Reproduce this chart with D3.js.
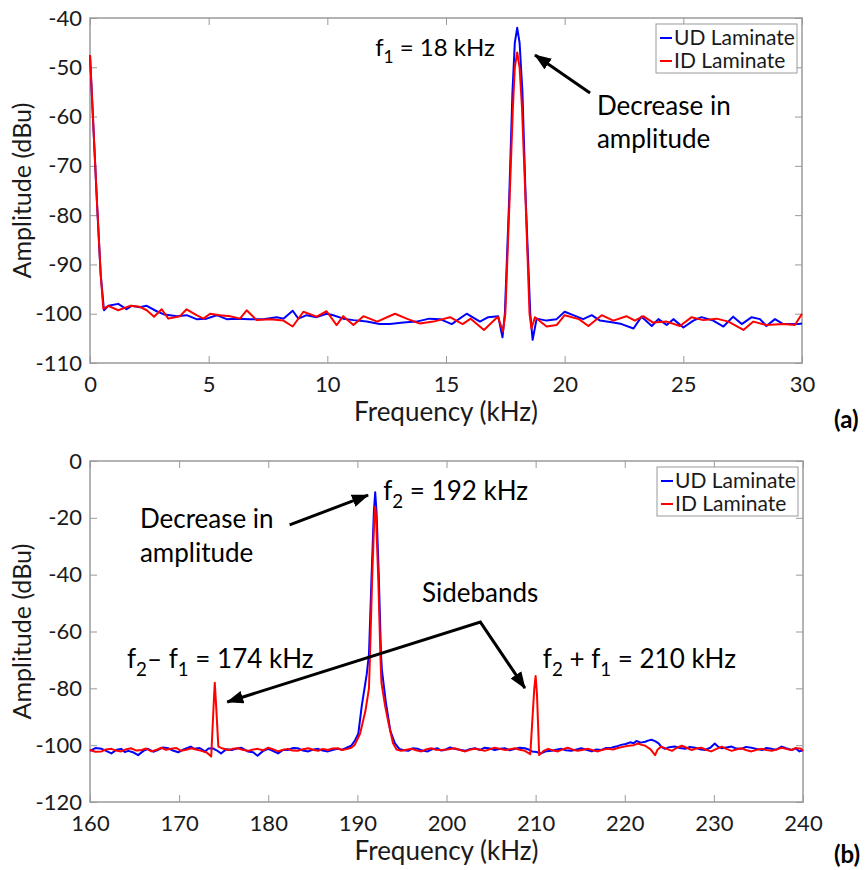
<!DOCTYPE html>
<html>
<head>
<meta charset="utf-8">
<script src="https://cdn.jsdelivr.net/npm/d3@7"></script>
<style>
  html, body { margin: 0; padding: 0; background: #fff; }
  svg { display: block; font-family: Lato, "Open Sans", sans-serif; }
</style>
</head>
<body>
<svg id="chart" width="867" height="870"></svg>
<script>
// ---------- Panel (a): spectrum around f1 = 18 kHz, [frequency kHz, amplitude dBu] ----------
const topUD = [
  [0,-47.5],[0.3,-78],[0.45,-92],[0.59,-99.3],[0.77,-98.4],[1.19,-98],[1.54,-99.1],[1.75,-98.4],[2.1,-98.7],[2.39,-98.4],
  [2.81,-99.5],[3.09,-100.1],[3.65,-100.5],[4.07,-100.3],[4.49,-101.1],[4.92,-101],[5.34,-100.3],[5.76,-101.1],[6.18,-101],[6.74,-101.1],
  [7.3,-101.1],[7.87,-100.7],[8.15,-101],[8.54,-99.4],[8.78,-101],[9.13,-100.3],[9.55,-100.7],[9.97,-100],[10.25,-100.3],[10.67,-101],
  [11.1,-101.3],[11.66,-101.6],[12.2,-102.1],[12.64,-102.1],[13.2,-101.8],[13.76,-101.6],[14.3,-101],[14.75,-101.1],[15.24,-102.1],[15.87,-100],
  [16.43,-101.6],[16.78,-100.7],[17.2,-100.5],[17.38,-104.8],[17.48,-100],[17.66,-77],[17.8,-55],[17.9,-45],[18.0,-42],[18.1,-45],
  [18.22,-55],[18.36,-77],[18.55,-100],[18.65,-105.3],[18.82,-101],[19.24,-101.4],[19.66,-101.1],[20.0,-99.6],[20.36,-100.3],[20.78,-101.1],
  [21.14,-100.3],[21.49,-101.4],[22.05,-101.8],[22.4,-102.1],[22.9,-103],[23.24,-100.6],[23.67,-102.5],[23.95,-101.1],[24.3,-102.3],[24.58,-101.1],
  [25.0,-102.8],[25.42,-101.4],[25.77,-100.7],[26.26,-101.4],[26.69,-102.6],[27.1,-100.6],[27.46,-102.1],[27.88,-100.7],[28.23,-101.1],[28.5,-102.5],
  [28.86,-101.1],[29.21,-102.1],[29.85,-102.1],[30,-102]
];
const topID = [
  [0,-47.5],[0.3,-78],[0.45,-92],[0.56,-99],[0.77,-98.4],[1.19,-99.3],[1.69,-98.4],[2.1,-98.6],[2.39,-99.3],[2.7,-100.6],
  [3.02,-99.1],[3.3,-101],[3.79,-100.5],[4.07,-99.1],[4.49,-100.3],[4.78,-101],[5.06,-100],[5.48,-100.3],[5.9,-100.5],[6.32,-101],
  [6.6,-99.3],[7.02,-101.3],[7.58,-101.1],[8.15,-101.4],[8.54,-102.6],[8.99,-99.6],[9.55,-100.6],[9.97,-99.5],[10.39,-102.3],[10.67,-100.5],
  [11.1,-102.3],[11.52,-100.5],[12.1,-101.6],[12.85,-100],[13.34,-101],[13.9,-102],[14.47,-101.6],[15.17,-100.7],[15.7,-102.1],[16.04,-101],
  [16.6,-103.3],[17.18,-100.6],[17.4,-103.6],[17.5,-100],[17.67,-78],[17.82,-58],[17.9,-50],[18.0,-47],[18.1,-50],[18.2,-58],
  [18.36,-78],[18.52,-100],[18.6,-103],[18.75,-100.7],[19.24,-102.6],[19.66,-102.3],[20.0,-100.3],[20.6,-101.1],[21.0,-102.5],[21.56,-100.3],
  [22.05,-101.4],[22.6,-100.5],[22.96,-101.4],[23.31,-100.5],[23.73,-101.8],[24.3,-101.6],[24.86,-102.5],[25.35,-100.7],[25.84,-101.3],[26.4,-101],
  [26.9,-101.6],[27.53,-103.3],[27.95,-101.6],[28.5,-102.3],[29.21,-102.1],[29.7,-102.3],[30,-100]
];
const topXTicks = [0, 5, 10, 15, 20, 25, 30];
const topYTicks = [-110, -100, -90, -80, -70, -60, -50, -40];

// ---------- Panel (b): spectrum around f2 = 192 kHz, [frequency kHz, amplitude dBu] ----------
const botUD = [
  [160,-102],[160.6,-101],[161.3,-101.3],[161.8,-102],[162.4,-102.9],[163,-101.6],[163.5,-101.3],[163.9,-102.4],[164.3,-102],[164.9,-102.6],
  [165.4,-103.5],[166,-102],[166.5,-101.3],[167.1,-102.3],[167.6,-101.7],[168.2,-100.8],[168.8,-101.1],[169.3,-101.9],[169.9,-102.5],[170.5,-101.5],
  [171,-100.9],[171.3,-100.5],[171.7,-101.3],[172.3,-101],[172.9,-102.2],[173.3,-101.2],[173.8,-101.1],[174.2,-101.8],[174.7,-102.9],[175.3,-101.4],
  [175.9,-101.7],[176.5,-101.2],[177,-100.9],[177.3,-101.5],[177.7,-102.2],[178.3,-102.5],[178.8,-103.7],[179.4,-102.1],[180,-101.3],[180.5,-102],
  [181.1,-102.9],[181.7,-101.6],[182.2,-101.7],[182.8,-101],[183.3,-101.1],[183.9,-101.9],[184.5,-102.2],[185.1,-101.5],[185.6,-101.3],[186.1,-101.9],
  [186.7,-102.2],[187.3,-101.6],[187.8,-101.3],[188.3,-101.6],[188.8,-100.9],[189.3,-100.2],[189.7,-98.5],[190.1,-96],[190.5,-86],[190.85,-79],
  [191.05,-75],[191.3,-68],[191.6,-40],[191.85,-18],[192,-11],[192.15,-18],[192.4,-40],[192.65,-68],[192.75,-73.5],[193.2,-85],
  [193.7,-95],[194.2,-99.3],[194.7,-101.3],[195.2,-101.8],[195.7,-102],[196.2,-101.1],[196.8,-101.3],[197.3,-101.9],[197.9,-102.2],[198.4,-101.4],
  [199,-101.1],[199.4,-101.9],[199.8,-101.7],[200.4,-100.8],[200.9,-101.3],[201.5,-101.6],[202.1,-102],[202.6,-101.4],[203.2,-101.1],[203.8,-101.7],
  [204.3,-100.9],[204.9,-101.2],[205.4,-101.7],[206,-101.3],[206.6,-101.1],[207.1,-101.8],[207.7,-101.3],[208.2,-100.9],[208.8,-101.1],[209.2,-101.5],
  [209.6,-102.2],[210.1,-102.4],[210.6,-102.9],[211.2,-102.1],[211.8,-102],[212.3,-101.6],[212.9,-101.3],[213.4,-101.8],[214,-102],[214.6,-101.5],
  [215.1,-101.1],[215.7,-101.6],[216.3,-102.2],[216.8,-101.5],[217.4,-101.7],[217.9,-101],[218.5,-100.9],[219,-100.5],[219.6,-99.9],[220.1,-99.6],
  [220.6,-99],[221,-99.3],[221.3,-98.5],[221.8,-99.1],[222.3,-98.8],[222.6,-98.4],[223,-98.1],[223.4,-98.6],[223.8,-99.4],[224.1,-100.6],
  [224.5,-101.3],[225,-100.7],[225.6,-100.5],[226.2,-101],[226.8,-101.3],[227.3,-100.6],[227.9,-100.9],[228.4,-101.4],[229,-101.7],[229.6,-100.9],
  [230.1,-99.4],[230.5,-100.6],[230.9,-101.1],[231.4,-100.8],[232,-100.5],[232.5,-101.2],[233.1,-101.3],[233.6,-100.6],[234.2,-100.9],[234.8,-101.3],
  [235.4,-101.7],[235.9,-101],[236.5,-101.3],[237,-101.6],[237.6,-100.5],[238.1,-101.1],[238.7,-101.7],[239.2,-101.2],[239.6,-102.2],[240,-101.8]
];
const botID = [
  [160,-101.7],[160.6,-102.3],[161.3,-102.2],[161.8,-101.5],[162.4,-101.3],[162.9,-101.9],[163.5,-102.2],[164,-101.5],[164.6,-101.1],[165.2,-101.9],
  [165.8,-101.7],[166.3,-101.2],[166.9,-102.2],[167.5,-101.6],[168,-100.9],[168.5,-101.6],[169.1,-101.3],[169.7,-101],[170.2,-102],[170.8,-101.6],
  [171.4,-101.1],[171.9,-101.5],[172.5,-102],[173.1,-102.6],[173.6,-104],[173.9,-84],[174,-78],[174.15,-86],[174.4,-100.5],[174.9,-101.2],
  [175.5,-101.7],[176,-101.3],[176.6,-101.1],[177.1,-101.6],[177.7,-102],[178.2,-101.6],[178.8,-101.3],[179.4,-101.8],[180,-100.9],[180.5,-101.4],
  [181.1,-102.2],[181.6,-101.7],[182.2,-101.3],[182.7,-101.9],[183.3,-102],[183.9,-101.4],[184.5,-101.1],[185,-101.6],[185.6,-102],[186.1,-101.3],
  [186.7,-101.7],[187.2,-101.2],[187.8,-101.1],[188.3,-101.7],[188.9,-101.3],[189.3,-100.9],[189.7,-99.9],[190.3,-96],[190.9,-88],[191.3,-80],
  [191.4,-70],[191.65,-42],[191.9,-20],[192,-16],[192.1,-20],[192.35,-42],[192.6,-70],[192.7,-78],[193.1,-86],[193.5,-92.3],
  [194,-99.3],[194.4,-101.5],[194.9,-102],[195.5,-101.6],[196.1,-101.3],[196.6,-101.8],[197.2,-102.2],[197.7,-101.5],[198.3,-101.1],[198.8,-101.6],
  [199.4,-101.7],[200.1,-101.5],[200.9,-101.1],[201.5,-101.7],[202.1,-102.2],[202.6,-101.6],[203.2,-101.3],[203.8,-101.6],[204.3,-102],[204.9,-101.4],
  [205.4,-100.9],[206,-101.3],[206.6,-101.7],[207.1,-101.4],[207.7,-101.1],[208.2,-101.6],[208.8,-102],[209.4,-103.2],[209.85,-80],[210,-75.7],
  [210.15,-82],[210.4,-103.5],[210.9,-102],[211.4,-101.3],[211.9,-101.8],[212.5,-102.2],[213,-101.5],[213.6,-100.9],[214.1,-101.5],[214.7,-102],
  [215.3,-101.6],[215.9,-101.3],[216.4,-101.8],[217,-102.2],[217.5,-101.6],[218.1,-101.3],[218.7,-101.5],[219.3,-100.9],[219.8,-100.6],[220.4,-100.2],
  [221,-100],[221.5,-99.4],[221.9,-99.9],[222.3,-100.2],[222.9,-101.5],[223.4,-103.5],[223.7,-101.5],[224.1,-100.5],[224.7,-101.3],[225.3,-102],
  [225.8,-101],[226.4,-100.2],[227,-101],[227.5,-101.7],[228,-101.2],[228.6,-100.9],[229.1,-101.6],[229.7,-102.2],[230.3,-101.3],[230.9,-100.5],
  [231.4,-101.3],[232,-102],[232.5,-101.5],[233.1,-101.1],[233.6,-101.7],[234.2,-102.2],[234.8,-101.6],[235.4,-101.3],[235.9,-101.7],[236.5,-102],
  [237,-101.5],[237.6,-100.9],[238.1,-101.3],[238.7,-101.7],[239.2,-101],[239.8,-101.3],[240,-102]
];
const botXTicks = [160, 170, 180, 190, 200, 210, 220, 230, 240];
const botYTicks = [-120, -100, -80, -60, -40, -20, 0];

const seriesNames = ["UD Laminate", "ID Laminate"];
const seriesColors = ["#0000ff", "#ff0000"];

const svg = d3.select("#chart");
const axisGrey = "#9a9a9a";
const textColor = "#1a1a1a";
const tickFmt = d => String(d);   // plain hyphen minus, e.g. "-40"

// arrowhead used by the annotation arrows
svg.append("defs").append("marker")
  .attr("id", "head")
  .attr("viewBox", "0 0 17 13")
  .attr("refX", 16).attr("refY", 6.5)
  .attr("markerWidth", 17).attr("markerHeight", 13)
  .attr("markerUnits", "userSpaceOnUse")
  .attr("orient", "auto-start-reverse")
  .append("path").attr("d", "M0,0 L17,6.5 L0,13 Z").attr("fill", "#000");

// label with subscripts: parts are [text, isSubscript]
function richText(g, x, y, parts, size, anchor) {
  const t = g.append("text").attr("x", x).attr("y", y)
    .attr("font-size", size).attr("fill", "#000")
    .attr("text-anchor", anchor || "start");
  let down = false;
  parts.forEach(([s, sub]) => {
    const sp = t.append("tspan").text(s);
    if (sub) sp.attr("font-size", size * 0.72);
    if (sub && !down) { sp.attr("dy", size * 0.3); down = true; }
    else if (!sub && down) { sp.attr("dy", -size * 0.3); down = false; }
  });
  return t;
}

function drawPanel(p) {
  const g = svg.append("g");
  const x = d3.scaleLinear().domain(p.xDomain).range([p.left, p.right]);
  const y = d3.scaleLinear().domain(p.yDomain).range([p.bottom, p.top]);

  const styleAxis = a => {
    a.select(".domain").remove();
    a.selectAll(".tick line").attr("stroke", axisGrey).attr("stroke-width", 1);
    a.selectAll(".tick text").attr("fill", textColor).attr("font-size", 22)
      .attr("font-family", "Lato, 'Open Sans', sans-serif");
  };

  g.append("g").attr("transform", `translate(0,${p.bottom})`)
    .call(d3.axisBottom(x).tickValues(p.xTicks).tickSize(-7).tickPadding(13).tickFormat(tickFmt))
    .call(styleAxis);
  g.append("g").attr("transform", `translate(0,${p.top})`)
    .call(d3.axisTop(x).tickValues(p.xTicks).tickSize(-7).tickFormat(""))
    .call(styleAxis);
  g.append("g").attr("transform", `translate(${p.left},0)`)
    .call(d3.axisLeft(y).tickValues(p.yTicks).tickSize(-7).tickPadding(8).tickFormat(tickFmt))
    .call(styleAxis);
  g.append("g").attr("transform", `translate(${p.right},0)`)
    .call(d3.axisRight(y).tickValues(p.yTicks).tickSize(-7).tickFormat(""))
    .call(styleAxis);

  g.append("rect")
    .attr("x", p.left).attr("y", p.top)
    .attr("width", p.right - p.left).attr("height", p.bottom - p.top)
    .attr("fill", "none").attr("stroke", axisGrey).attr("stroke-width", 1.5);

  // spectra: UD first, ID drawn on top
  const line = d3.line().x(d => x(d[0])).y(d => y(d[1]));
  p.series.forEach((pts, i) => {
    g.append("path").datum(pts)
      .attr("d", line)
      .attr("fill", "none")
      .attr("stroke", seriesColors[i])
      .attr("stroke-width", 2)
      .attr("stroke-linejoin", "round");
  });

  // axis titles and panel tag
  g.append("text")
    .attr("transform", `translate(31,${(p.top + p.bottom) / 2}) rotate(-90)`)
    .attr("text-anchor", "middle").attr("font-size", 25).attr("fill", textColor)
    .text("Amplitude (dBu)");
  g.append("text")
    .attr("x", (p.left + p.right) / 2).attr("y", p.bottom + 58)
    .attr("text-anchor", "middle").attr("font-size", 26).attr("fill", textColor)
    .text("Frequency (kHz)");
  g.append("text")
    .attr("x", 834).attr("y", p.tagY)
    .attr("font-size", 24).attr("font-weight", "bold").attr("fill", "#000")
    .text(p.tag);

  // legend
  const lg = g.append("g").attr("transform", `translate(${p.right - 146},${p.top + 6})`);
  lg.append("rect").attr("width", 141).attr("height", 49)
    .attr("fill", "#fff").attr("stroke", axisGrey).attr("stroke-width", 1);
  seriesNames.forEach((name, i) => {
    const yy = 14 + i * 23;
    lg.append("line").attr("x1", 4).attr("x2", 16).attr("y1", yy).attr("y2", yy)
      .attr("stroke", seriesColors[i]).attr("stroke-width", 2);
    lg.append("text").attr("x", 18).attr("y", yy + 7)
      .attr("font-size", 21).attr("fill", textColor).text(name);
  });

  // annotations, placed in data coordinates
  p.notes.forEach(n => {
    if (n.parts) richText(g, x(n.at[0]), y(n.at[1]), n.parts, n.size || 26, n.anchor);
    if (n.arrow) {
      const pts = n.arrow.map(d => [x(d[0]), y(d[1])]);
      g.append("path").attr("d", d3.line()(pts))
        .attr("fill", "none").attr("stroke", "#000").attr("stroke-width", 3)
        .attr("marker-end", "url(#head)")
        .attr("marker-start", n.both ? "url(#head)" : null);
    }
  });
}

drawPanel({
  left: 90, right: 802, top: 18, bottom: 363, tagY: 428,
  xDomain: [0, 30], yDomain: [-110, -40],
  xTicks: topXTicks, yTicks: topYTicks, tag: "(a)",
  series: [topUD, topID],
  notes: [
    { at: [17.06, -47.7], parts: [["f"], ["1", true], [" = 18 kHz"]], anchor: "end", size: 24 },
    { arrow: [[21.07, -55.2], [18.75, -47.5]] },
    { at: [21.36, -59.7], parts: [["Decrease in"]] },
    { at: [21.36, -66.4], parts: [["amplitude"]] }
  ]
});

drawPanel({
  left: 90, right: 803, top: 461, bottom: 802, tagY: 863,
  xDomain: [160, 240], yDomain: [-120, 0],
  xTicks: botXTicks, yTicks: botYTicks, tag: "(b)",
  series: [botUD, botID],
  notes: [
    { at: [192.9, -13.7], parts: [["f"], ["2", true], [" = 192 kHz"]] },
    { arrow: [[182.4, -22.5], [191.2, -12]] },
    { at: [165.6, -23.6], parts: [["Decrease in"]] },
    { at: [165.6, -35.5], parts: [["amplitude"]] },
    { at: [197.25, -49.6], parts: [["Sidebands"]] },
    { arrow: [[175.4, -84.8], [203.8, -56.7], [208.8, -79.9]], both: true },
    { at: [164.15, -72.8], parts: [["f"], ["2", true], ["– f"], ["1", true], [" = 174 kHz"]] },
    { at: [210.8, -72.8], parts: [["f"], ["2", true], [" + f"], ["1", true], [" = 210 kHz"]] }
  ]
});
</script>
</body>
</html>
